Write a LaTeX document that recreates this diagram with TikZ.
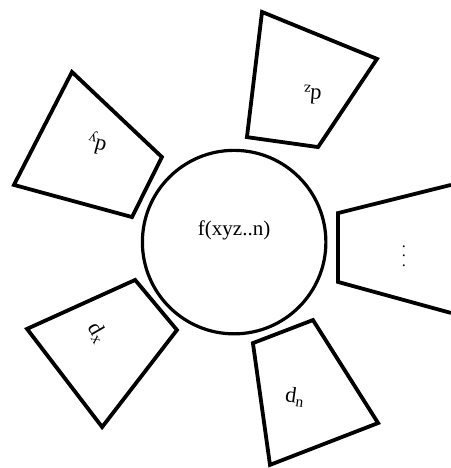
\documentclass[tikz,border=0pt]{standalone}
\usepackage{fontspec}
\setmainfont{Liberation Serif}
\usetikzlibrary{positioning}

\begin{document}
\begin{tikzpicture}[x=1cm,y=1cm,line join=miter,every node/.style={font=\fontsize{22}{24}\selectfont, align=center}]
        \useasboundingbox (0,0) rectangle (15.85,16.45);
        \tikzset{slot/.style={line width=3.8pt}}
        \node[draw, circle, line width=3.2pt, minimum size=6.45cm, font=\fontsize{21}{24}\selectfont] (fxyz) at (8.23,7.94) {f(xyz..n)\\[4pt]};
        % segments round the centre
        \draw[slot] (2.53,13.92) -- (5.69,10.93) -- (4.64,8.82) -- (0.49,9.95) -- cycle;
        \draw[slot] (9.21,16.03) -- (13.25,14.38) -- (11.18,11.28) -- (8.68,11.63) -- cycle;
        \draw[slot] (15.85,9.95) -- (11.88,8.96) -- (11.88,6.54) -- (15.85,5.45);
        \draw[slot] (0.95,4.89) -- (4.75,6.61) -- (6.22,4.85) -- (3.59,1.44) -- cycle;
        \draw[slot] (8.89,4.39) -- (11.00,5.20) -- (13.29,1.58) -- (9.49,0.11) -- cycle;
        \node[rotate=165] (dy) at (3.41,11.42) {d\textsubscript{y}};
        \node[rotate=175] (dz) at (10.97,13.11) {d\textsubscript{z}};
        \node[font=\fontsize{16}{9.5}\selectfont] (dots) at (14.20,7.45) {.\\.\\.};
        \node[rotate=-60] (dx) at (3.44,4.75) {d\textsubscript{x}};
        \node[rotate=-8] (dn) at (10.37,2.50) {d\textsubscript{n}};
    \end{tikzpicture}
\end{document}
